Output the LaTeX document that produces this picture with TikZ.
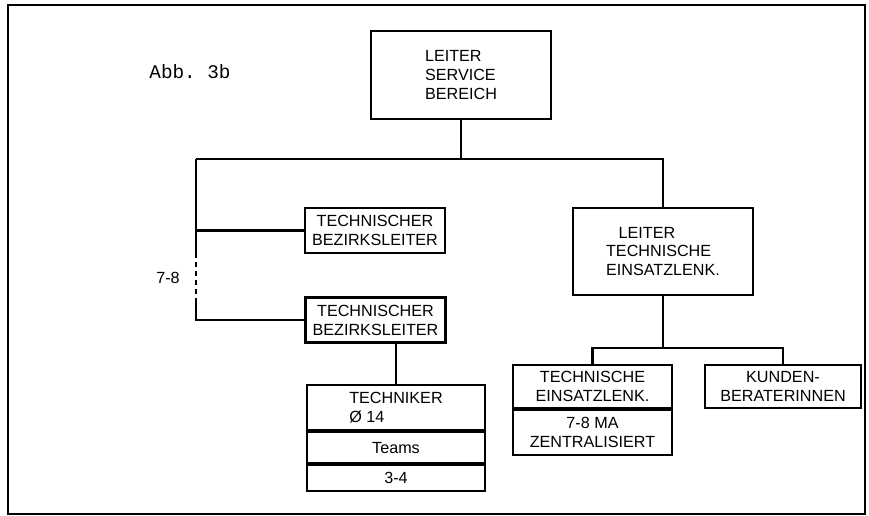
\documentclass[tikz,border=0pt]{standalone}
\usepackage{fontspec}
\setmainfont{Liberation Sans}
\setmonofont{Liberation Mono}
\usetikzlibrary{positioning}

\begin{document}
\begin{tikzpicture}[
    x=0.02cm, y=-0.02cm,
    box/.style={rectangle, draw, line width=1.2pt, inner sep=0pt, align=center, font=\fontsize{9.2}{10.8}\selectfont},
    cell/.style={box, below=0pt of #1},
    label/.style={font=\fontsize{9.2}{10.8}\selectfont},
    line/.style={line width=1.2pt}
]
    \useasboundingbox (0,0) rectangle (869,516);
    \draw[line] (8,5) rectangle (865,514);

    % Title
    \node[font=\ttfamily\fontsize{11}{13}\selectfont] (abb) at (190,72) {Abb. 3b};

    % Top
    \node[box, minimum width=3.6cm, minimum height=1.76cm, align=left] (leiter) at (461,75) {LEITER\\SERVICE\\BEREICH};

    % Left branch
    \node[box, minimum width=2.8cm, minimum height=0.9cm] (bzl1) at (375,230.5) {TECHNISCHER\\BEZIRKSLEITER};
    \node[box, minimum width=2.8cm, minimum height=0.9cm] (bzl2) at (375.5,320) {TECHNISCHER\\BEZIRKSLEITER};
    \node[box, minimum width=3.56cm, minimum height=0.9cm, align=left] (techniker) at (396,407.5) {TECHNIKER\\Ø 14};
    \node[cell=techniker, minimum width=3.56cm, minimum height=0.62cm] (teams) {Teams};
    \node[cell=teams, minimum width=3.56cm, minimum height=0.52cm] (anzahl) {3-4};
    \node[label] (anz) at (168,278) {7-8};

    % Right branch
    \node[box, minimum width=3.6cm, minimum height=1.74cm, align=left] (leitereinsatz) at (663,251.5) {\hspace*{0.25cm}LEITER\\TECHNISCHE\\EINSATZLENK.};
    \node[box, minimum width=3.18cm, minimum height=0.86cm] (einsatz) at (592.5,386.5) {TECHNISCHE\\EINSATZLENK.};
    \node[cell=einsatz, minimum width=3.18cm, minimum height=0.9cm] (einsatzma) {7-8 MA\\ZENTRALISIERT};
    \node[box, minimum width=3.12cm, minimum height=0.86cm] (kunden) at (783,386.5) {KUNDEN-\\BERATERINNEN};

    % Connections
    \coordinate (bustop) at (196,159);
    \coordinate (dashtop) at (196,253);
    \coordinate (dashbot) at (196,300);
    \coordinate (bus2) at (663,348);
    \draw[line] (leiter.south) -- (leiter.south |- bustop);
    \draw[line] (bustop) -- (bustop -| leitereinsatz.north) -- (leitereinsatz.north);
    \draw[line] (bustop) -- (dashtop);
    \draw[line, dash pattern=on 2.8pt off 2.3pt] (dashtop) -- (dashbot);
    \draw[line] (dashbot) |- (bzl2.west);
    \draw[line] (bustop |- bzl1.west) -- (bzl1.west);
    \draw[line] (techniker.north) -- (techniker.north |- bzl2.south);
    \draw[line] (leitereinsatz.south) -- (bus2);
    \draw[line] (einsatz.north) -- (einsatz.north |- bus2) -- (kunden.north |- bus2) -- (kunden.north);
\end{tikzpicture}
\end{document}
